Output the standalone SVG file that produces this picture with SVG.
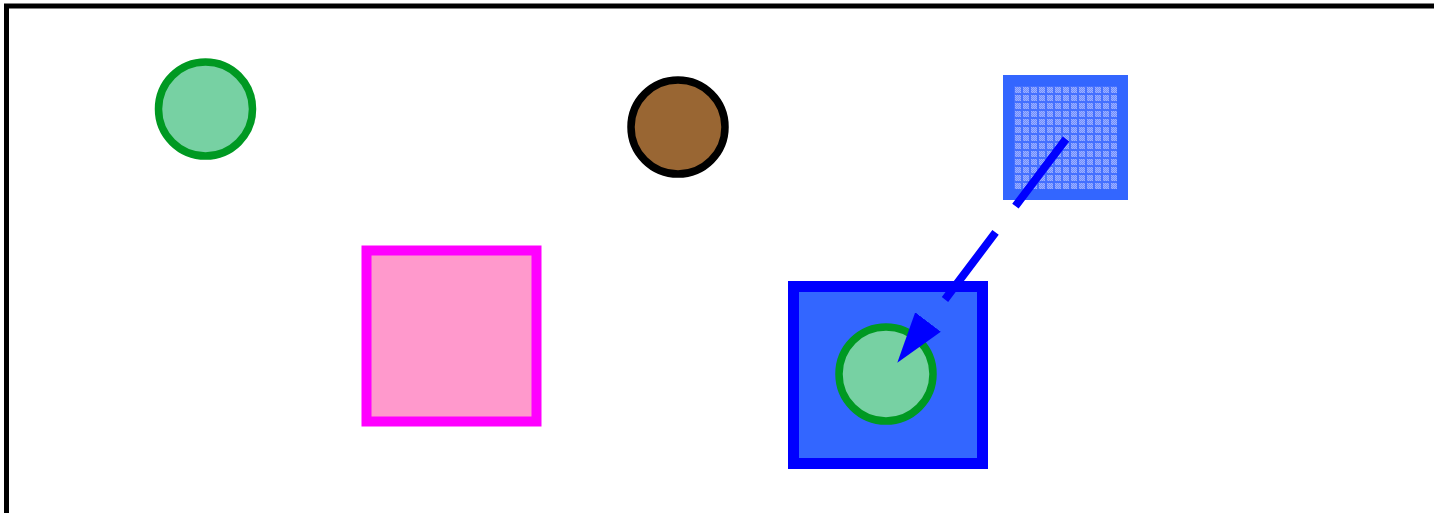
<svg xmlns="http://www.w3.org/2000/svg" width="1434" height="513" viewBox="0 0 1434 513">
<style>
.green{fill:#77d1a3;stroke:#009922;stroke-width:7.5}
.conn{fill:none;stroke:#0000ff;stroke-width:8;stroke-dasharray:84 33;stroke-linecap:butt}
</style>
<defs>
<pattern id="chk" width="2" height="2" patternUnits="userSpaceOnUse">
<rect width="2" height="2" fill="#6f8eff"/>
<rect width="1" height="1" fill="#9cb0ff"/>
<rect x="1" y="1" width="1" height="1" fill="#9cb0ff"/>
</pattern>
<pattern id="grid" x="1014" y="86" width="8" height="8" patternUnits="userSpaceOnUse">
<rect width="8" height="8" fill="#4470ff"/>
<rect x="1" y="1" width="6" height="6" fill="url(#chk)"/>
</pattern>
<marker id="arr" markerUnits="userSpaceOnUse" markerWidth="60" markerHeight="40" refX="0" refY="16" orient="auto" viewBox="0 0 60 32">
<path d="M0,0 L51,16 L0,32 z" fill="#0000ff"/>
</marker>
</defs>
<rect x="6.5" y="6" width="1440" height="520" fill="#ffffff" stroke="#000000" stroke-width="5"/>
<g id="node-green-circle">
<circle class="green" cx="205.5" cy="109" r="47"/>
</g>
<g id="node-brown-circle">
<circle cx="678" cy="127" r="47" fill="#996633" stroke="#000000" stroke-width="7.5"/>
</g>
<g id="node-pink-square">
<rect x="366.5" y="250.5" width="170" height="171" fill="#ff99cc" stroke="#ff00ff" stroke-width="10"/>
</g>
<g id="node-pattern-square">
<rect x="1008.5" y="80.5" width="114" height="114" fill="url(#grid)" stroke="#3366ff" stroke-width="11"/>
</g>
<g id="node-blue-square">
<rect x="793.5" y="286.5" width="189" height="177" fill="#3366ff" stroke="#0000ff" stroke-width="11"/>
<circle class="green" cx="886" cy="374" r="47"/>
</g>
<g id="connectors">
<line class="conn" x1="1066" y1="139" x2="928" y2="322" marker-end="url(#arr)"/>
</g>
</svg>
